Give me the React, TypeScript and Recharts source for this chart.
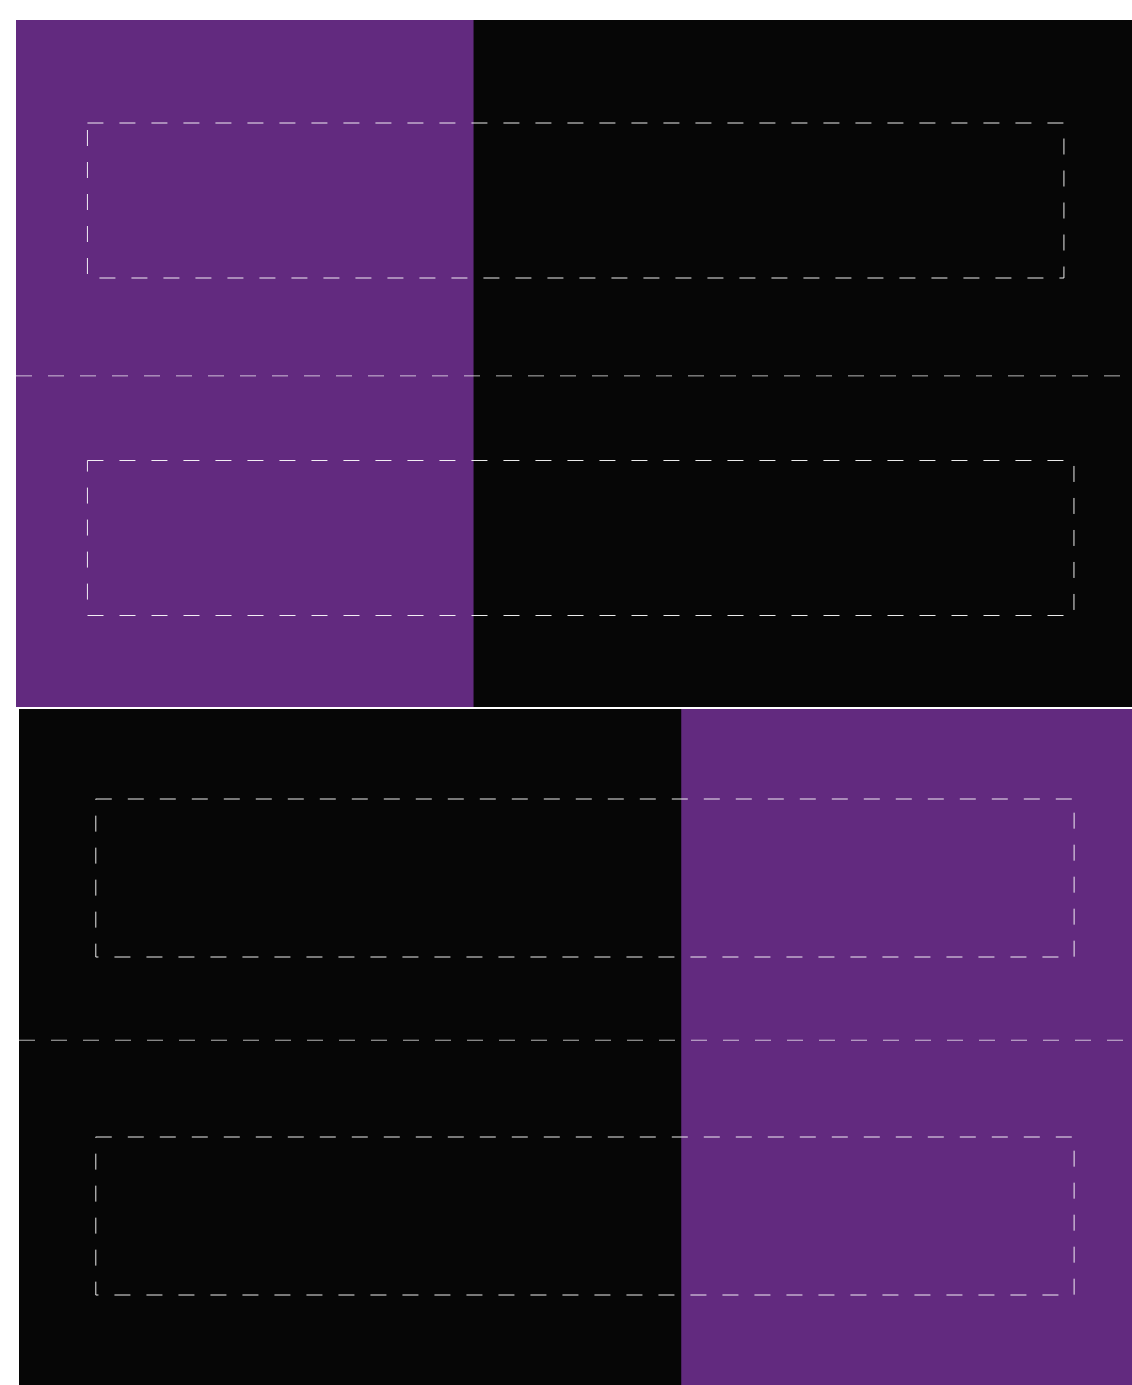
import React from 'react';
import {
  ComposedChart,
  Bar,
  XAxis,
  YAxis,
  ReferenceArea,
  CartesianGrid,
} from 'recharts';

// categories of each panel
const categories = ['A', 'B'];

// panel 1: bar ranges [start, end] on a 0-100 scale
const topStarts = [6.4, 6.4];
const topEnds = [93.9, 94.8];
// panel 2
const bottomStarts = [6.9, 6.9];
const bottomEnds = [94.8, 94.8];

// highlighted (purple) span of each panel
const topHighlight = [0, 41];
const bottomHighlight = [59.5, 100];

// position of the dashed separator (percent from the top of the panel)
const topSeparator = 51.8;
const bottomSeparator = 49;

const PURPLE = '#622a7f';
const DARK = '#060606';

const buildRows = (starts: number[], ends: number[]) =>
  categories.map((name, i) => ({ name, range: [starts[i], ends[i]] }));

interface PanelProps {
  starts: number[];
  ends: number[];
  highlight: number[];
  separator: number;
  width: number;
  height: number;
  barSize: number;
  padTop: number;
}

const noMargin = { top: 0, right: 0, bottom: 0, left: 0 };

const Panel: React.FC<PanelProps> = ({
  starts,
  ends,
  highlight,
  separator,
  width,
  height,
  barSize,
  padTop,
}) => {
  const data = buildRows(starts, ends);
  return (
    <div style={{ position: 'relative', width, height, background: DARK }}>
      {/* background: highlighted span */}
      <div style={{ position: 'absolute', left: 0, top: 0 }}>
        <ComposedChart layout="vertical" width={width} height={height} data={data} margin={noMargin}>
          <XAxis type="number" domain={[0, 100]} hide />
          <YAxis type="number" domain={[0, 100]} hide />
          <ReferenceArea
            x1={highlight[0]}
            x2={highlight[1]}
            y1={0}
            y2={100}
            fill={PURPLE}
            fillOpacity={1}
            stroke="none"
            ifOverflow="extendDomain"
          />
        </ComposedChart>
      </div>
      {/* foreground: separator and outlined bars */}
      <div style={{ position: 'absolute', left: 0, top: 0 }}>
        <ComposedChart layout="vertical" width={width} height={height} data={data} margin={noMargin}>
          <XAxis type="number" domain={[0, 100]} hide />
          <YAxis
            type="category"
            dataKey="name"
            hide
            padding={{ top: padTop, bottom: 0 }}
          />
          <CartesianGrid
            vertical={false}
            horizontal
            stroke="#ffffff"
            strokeOpacity={0.7}
            strokeDasharray="16 16"
            horizontalCoordinatesGenerator={({ offset }: any) => [
              offset.top + (offset.height * separator) / 100,
            ]}
          />
          <Bar
            dataKey="range"
            barSize={barSize}
            fill="none"
            stroke="#ffffff"
            strokeOpacity={0.92}
            strokeWidth={1}
            strokeDasharray="16 16"
            isAnimationActive={false}
          />
        </ComposedChart>
      </div>
    </div>
  );
};

const App: React.FC = () => (
  <div>
    <div style={{ position: 'absolute', left: 16, top: 20 }}>
      <Panel
        starts={topStarts}
        ends={topEnds}
        highlight={topHighlight}
        separator={topSeparator}
        width={1116}
        height={687}
        barSize={155}
        padTop={12}
      />
    </div>
    <div style={{ position: 'absolute', left: 19, top: 709 }}>
      <Panel
        starts={bottomStarts}
        ends={bottomEnds}
        highlight={bottomHighlight}
        separator={bottomSeparator}
        width={1113}
        height={676}
        barSize={158}
        padTop={0}
      />
    </div>
  </div>
);

export default App;
